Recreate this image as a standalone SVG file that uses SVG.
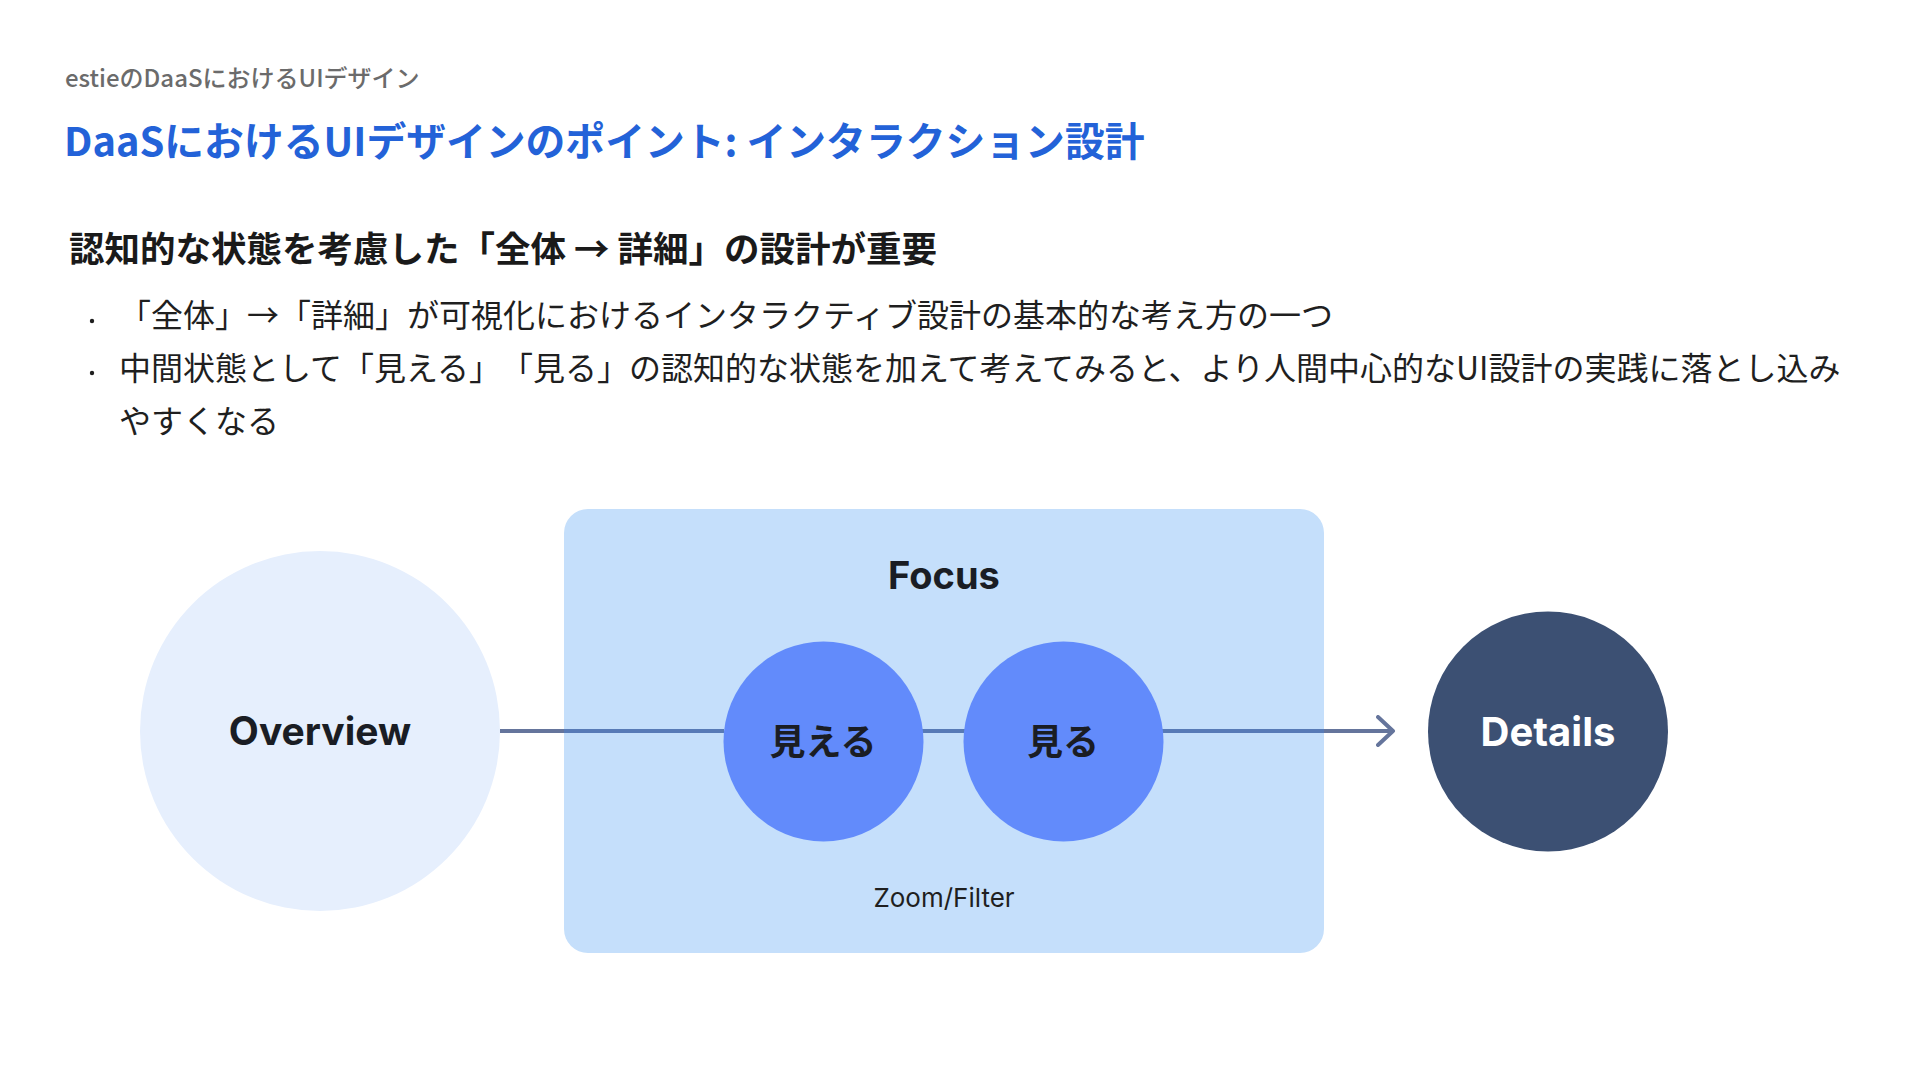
<svg xmlns="http://www.w3.org/2000/svg" width="1920" height="1080" viewBox="0 0 1920 1080">
<defs>
<style>
.jp{font-family:"Noto Sans CJK JP","Noto Sans",sans-serif;text-spacing-trim:space-all;}
.lat{font-family:Inter,"Noto Sans CJK JP",sans-serif;}
.hdr{font-size:24px;fill:#6b6b6b;font-weight:500;}
.title{font-size:39.8px;fill:#2362d8;font-weight:700;}
.sub{font-size:35.5px;fill:#1a1a1a;font-weight:700;}
.body{font-size:32px;fill:#1f1f1f;font-weight:400;}
.node-label{font-weight:700;text-anchor:middle;}
.conn-out{stroke:#65759c;stroke-width:4;fill:none;}
.conn-in{stroke:#577ab6;stroke-width:4;fill:none;}
</style>
<marker id="arrow" viewBox="0 0 20 32" refX="17" refY="16" markerWidth="20" markerHeight="32" markerUnits="userSpaceOnUse" orient="auto">
<path d="M2,2 L17,16 L2,30" fill="none" stroke="#65759c" stroke-width="4" stroke-linecap="round" stroke-linejoin="round"/>
</marker>
</defs>
<rect width="1920" height="1080" fill="#ffffff"/>

<g id="header">
<text class="jp hdr" x="65" y="87">estieのDaaSにおけるUIデザイン</text>
<text class="jp title" x="64" y="156">DaaSにおけるUIデザインのポイント: インタラクション設計</text>
</g>

<g id="body-text">
<text class="jp sub" x="69" y="262">認知的な状態を考慮した「全体 → 詳細」の設計が重要</text>
<circle cx="92" cy="321" r="2.2" fill="#1f1f1f"/>
<text class="jp body" x="119" y="327">「全体」→「詳細」が可視化におけるインタラクティブ設計の基本的な考え方の一つ</text>
<circle cx="92" cy="373" r="2.2" fill="#1f1f1f"/>
<text class="jp body" x="119" y="380">中間状態として「見える」「見る」の認知的な状態を加えて考えてみると、より人間中心的なUI設計の実践に落とし込み</text>
<text class="jp body" x="119" y="433">やすくなる</text>
</g>

<g id="focus-group">
<rect x="564" y="509" width="760" height="444" rx="24" fill="#c5dffb"/>
<text class="lat node-label" x="944" y="589" font-size="38" fill="#1a1d24">Focus</text>
<text class="lat" x="944" y="907" font-size="26" fill="#1f1f1f" text-anchor="middle">Zoom/Filter</text>
</g>

<g id="connectors">
<line class="conn-out" x1="500" y1="731" x2="564" y2="731"/>
<line class="conn-in" x1="564" y1="731" x2="724" y2="731"/>
<line class="conn-in" x1="922" y1="731" x2="965" y2="731"/>
<line class="conn-in" x1="1162" y1="731" x2="1324" y2="731"/>
<line class="conn-out" x1="1324" y1="731" x2="1393" y2="731" marker-end="url(#arrow)"/>
</g>

<g id="node-overview">
<circle cx="320" cy="731" r="180" fill="#e6effd"/>
<text class="lat node-label" x="320" y="745" font-size="39" fill="#1a1d24">Overview</text>
</g>

<g id="node-mieru">
<circle cx="823.5" cy="741.5" r="100" fill="#628bfb"/>
<text class="jp node-label" x="823" y="755" font-size="36" fill="#1a1d24">見える</text>
</g>

<g id="node-miru">
<circle cx="1063.5" cy="741.5" r="100" fill="#628bfb"/>
<text class="jp node-label" x="1063" y="755" font-size="36" fill="#1a1d24">見る</text>
</g>

<g id="node-details">
<circle cx="1548" cy="731.5" r="120" fill="#3c5073"/>
<text class="lat node-label" x="1548" y="746" font-size="40" fill="#ffffff">Details</text>
</g>
</svg>
